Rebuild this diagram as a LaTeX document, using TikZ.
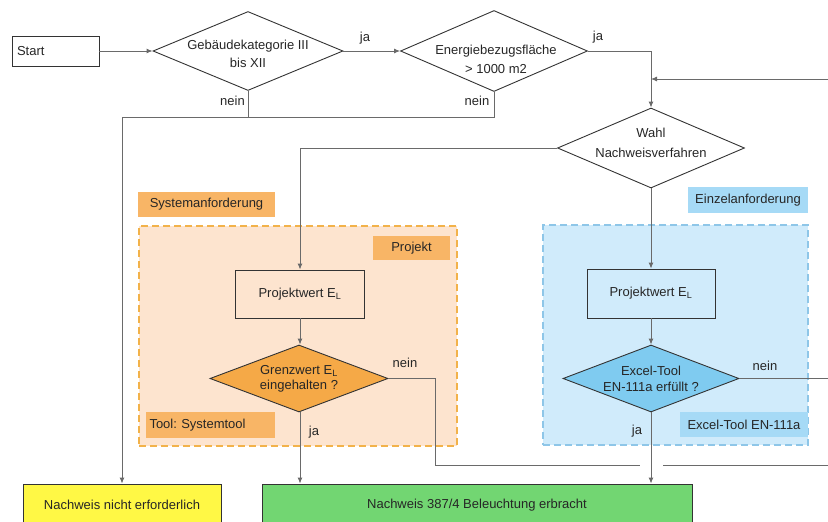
\documentclass[tikz,border=0pt]{standalone}
\usepackage{fontspec}
\setmainfont{Liberation Sans}
\usetikzlibrary{shapes.geometric,arrows.meta}
\definecolor{lineg}{HTML}{6A6A6A}
\definecolor{boxb}{HTML}{333333}
\definecolor{txtc}{HTML}{262626}
\definecolor{orlab}{HTML}{F8B566}
\definecolor{orreg}{HTML}{FDE4CF}
\definecolor{orbord}{HTML}{F2B24A}
\definecolor{ordia}{HTML}{F5A947}
\definecolor{bllab}{HTML}{A6DAF6}
\definecolor{blreg}{HTML}{D0EBFB}
\definecolor{blbord}{HTML}{8EC6E8}
\definecolor{bldia}{HTML}{7FCBF0}
\definecolor{yel}{HTML}{FFF845}
\definecolor{grn}{HTML}{72D672}
\frenchspacing
\begin{document}
\begin{tikzpicture}[x=1pt,y=-1pt,
  font=\fontsize{13}{15.5}\selectfont, text=txtc,
  conn/.style={draw=lineg,line width=0.9pt},
  arr/.style={conn,-{Latex[length=6pt,width=5pt]}},
  box/.style={draw=boxb,line width=0.9pt,rectangle,inner sep=0pt},
  dia/.style={draw=boxb,line width=0.9pt,diamond,inner sep=0pt,aspect=2.4},
  txt/.style={inner sep=0pt,align=center},
  lab/.style={inner sep=0pt},
  region/.style={rectangle,line width=1.2pt,dash pattern=on 7pt off 4pt,inner sep=0pt},
  tag/.style={rectangle,inner sep=0pt}]
\useasboundingbox (0,0) rectangle (828,522);

% regions
\node[region,draw=orbord,fill=orreg,minimum width=318pt,minimum height=220pt] (regL) at (298,336) {};
\node[region,draw=blbord,fill=blreg,minimum width=265pt,minimum height=220pt] (regR) at (675.5,335) {};
\node[tag,fill=orlab,minimum width=137pt,minimum height=25pt] (sysL) at (206.5,204.5) {Systemanforderung};
\node[tag,fill=orlab,minimum width=77pt,minimum height=24pt] (projL) at (411.5,248) {Projekt};
\node[tag,fill=orlab,minimum width=129pt,minimum height=26pt,text width=122pt,inner xsep=3.5pt,align=left] (toolL) at (210.5,425) {Tool: Systemtool};
\node[tag,fill=bllab,minimum width=120pt,minimum height=26pt] (einzL) at (748,200) {Einzelanforderung};
\node[tag,fill=bllab,minimum width=128pt,minimum height=25pt] (exL) at (744,424.5) {Excel-Tool EN-111a};

% main nodes
\node[box,minimum width=87pt,minimum height=30pt,text width=77pt,align=left,inner xsep=5pt] (start) at (55.5,51) {Start};
\node[dia,minimum width=190pt,minimum height=79pt] (d1) at (248,51) {};
\node[txt,font=\fontsize{13}{18}\selectfont] (d1t) at (248,54) {Gebäudekategorie III\\bis XII};
\node[dia,minimum width=187pt,minimum height=81pt] (d2) at (494,51) {};
\node[txt,font=\fontsize{13}{19}\selectfont] (d2t) at (496,59) {Energiebezugsfläche\\\textgreater{} 1000 m2};
\node[dia,minimum width=187pt,minimum height=80pt] (d3) at (651,148) {};
\node[txt,font=\fontsize{13}{20}\selectfont] (d3t) at (651,143) {Wahl\\Nachweisverfahren};

\node[box,fill=orreg,minimum width=129pt,minimum height=48pt] (pw1) at (300,294) {Projektwert E\textsubscript{L}};
\node[box,fill=blreg,minimum width=128pt,minimum height=49pt] (pw2) at (651,293.5) {Projektwert E\textsubscript{L}};
\node[dia,fill=ordia,minimum width=178pt,minimum height=67pt] (gd) at (299,378.5) {};
\node[txt] (gdt) at (299,379) {Grenzwert E\textsubscript{L}\\eingehalten ?};
\node[dia,fill=bldia,minimum width=176pt,minimum height=67pt] (ed) at (651,378.5) {};
\node[txt] (edt) at (651,379) {Excel-Tool\\EN-111a erfüllt ?};

\node[box,fill=yel,minimum width=198pt,minimum height=46pt] (yel) at (122,507) {};
\node[txt] (yelt) at (122,505) {Nachweis nicht erforderlich};
\node[box,fill=grn,minimum width=430pt,minimum height=46pt] (grn) at (477,507) {};
\node[txt] (grnt) at (477,505) {Nachweis 387/4 Beleuchtung erbracht};

% coordinates
\coordinate (n1) at (122,117);
\coordinate (loopIn) at (828,79);
\coordinate (gR) at (435,378.5);
\coordinate (gap1) at (640,465);
\coordinate (gap2) at (663,465);
\coordinate (edgeL) at (828,465);
\coordinate (edgeE) at (828,378.5);

% connectors
\draw[arr] (start.east) -- (d1.west);
\draw[arr] (d1.east) -- (d2.west);
\draw[arr] (d2.east) -| (d3.north);
\draw[arr] (loopIn) -- (d3.north |- loopIn);
\draw[conn] (d2.south) |- (n1);
\draw[arr] (d1.south) |- (n1) -- (yel.north);
\draw[arr] (d3.west) -| (pw1.north);
\draw[arr] (d3.south) -- (pw2.north);
\draw[arr] (pw1.south) -- (pw1.south |- gd.north);
\draw[arr] (pw2.south) -- (ed.north);
\draw[arr] (pw1.south |- gd.south) -- (pw1.south |- grn.north);
\draw[arr] (ed.south) -- (ed.south |- grn.north);
\draw[conn] (gd.east) -- (gR) |- (gap1);
\draw[conn] (gap2) -- (edgeL);
\draw[conn] (ed.east) -- (edgeE);

% labels
\node[lab] (ja1) at (365,38) {ja};
\node[lab] (ja2) at (598,37) {ja};
\node[lab,anchor=east] (nein1) at (245,101) {nein};
\node[lab] (nein2) at (477,101) {nein};
\node[lab] (nein3) at (405,363) {nein};
\node[lab] (nein4) at (765,366) {nein};
\node[lab] (ja3) at (314,432) {ja};
\node[lab] (ja4) at (637,431) {ja};
\end{tikzpicture}
\end{document}
